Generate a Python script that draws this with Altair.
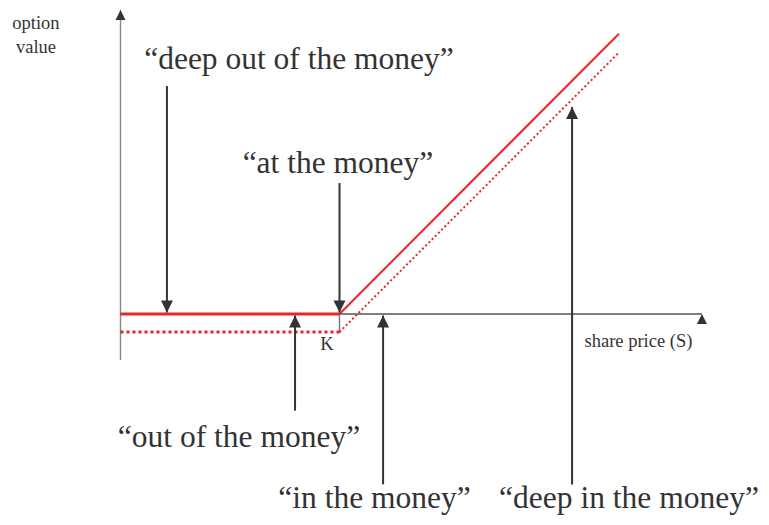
import altair as alt
import pandas as pd

# ---- data (in chart units: strike K = 100) ----
K = 100
share_price = [0, 100, 227.6]
option_value = [0, 0, 128.0]          # solid red payoff
lower_value = [-8.2, -8.2, 119.4]      # dotted red line

arrow_labels = ["\u201cdeep out of the money\u201d", "\u201cat the money\u201d",
                "\u201cout of the money\u201d", "\u201cin the money\u201d",
                "\u201cdeep in the money\u201d"]
arrow_x = [21.2, 100, 79.7, 119.9, 206.2]
arrow_from = [104.1, 59.8, -44.1, -77.8, -77.8]
arrow_tip = [0.7, 0.7, -0.7, -0.7, 94.5]
label_x = [81.5, 99.3, 54.1, 116.0, 232.2]
label_y = [111.9, 64.4, -60.7, -88.6, -88.6]

axis_texts = ["option", "value", "share price (S)", "K"]
axis_text_x = [-38.6, -38.6, 236.5, 94.3]
axis_text_y = [130.1, 119.2, -15.1, -16.4]

x_end = 265.5
y_end = 138.8
y_bottom = -21.0

# ---- scales ----
xs = alt.Scale(domain=[-51.37, 292.47], nice=False, zero=False)
ys = alt.Scale(domain=[-92.69, 139.73], nice=False, zero=False)

RED = "#e8262b"
DARK = "#333333"
FONT = "Liberation Serif"

# segments of red lines
seg_rows = []
for name, vals in [("solid", option_value), ("dotted", lower_value)]:
    for i in range(len(share_price) - 1):
        seg_rows.append({"series": name,
                         "kind": "flat" if i == 0 else "slope",
                         "x": share_price[i], "y": vals[i],
                         "x2": share_price[i + 1], "y2": vals[i + 1]})
segs = pd.DataFrame(seg_rows)

def seg_layer(series, kind, width, dash=None):
    kw = dict(color=RED, strokeWidth=width, strokeCap="butt")
    if dash:
        kw["strokeDash"] = dash
    return alt.Chart(segs).transform_filter(
        (alt.datum.series == series) & (alt.datum.kind == kind)
    ).mark_rule(**kw).encode(
        x=alt.X("x:Q", scale=xs, axis=None),
        y=alt.Y("y:Q", scale=ys, axis=None),
        x2="x2:Q", y2="y2:Q")

# axes
axes_df = pd.DataFrame({
    "x": [0, 0, K], "x2": [0, x_end, K],
    "y": [y_bottom, 0, 0], "y2": [y_end, 0, -8.7],
    "c": ["#888888", "#555555", "#777777"],
})
axes = alt.Chart(axes_df).mark_rule(strokeWidth=1.4).encode(
    x=alt.X("x:Q", scale=xs, axis=None), x2="x2:Q",
    y=alt.Y("y:Q", scale=ys, axis=None), y2="y2:Q",
    color=alt.Color("c:N", scale=None))

UP = "M0,0L-0.5,1L0.5,1Z"
DOWN = "M0,0L-0.5,-1L0.5,-1Z"
RIGHT = "M0,0L-1,-0.4L-1,0.4Z"

axis_heads = pd.DataFrame({"x": [0, x_end], "y": [y_end, 0], "d": ["up", "right"]})
axis_head_layer = alt.Chart(axis_heads).mark_point(filled=True, opacity=1, size=400,
                                                   color="#333333", strokeWidth=0).encode(
    x=alt.X("x:Q", scale=xs, axis=None),
    y=alt.Y("y:Q", scale=ys, axis=None),
    shape=alt.Shape("d:N", scale=alt.Scale(domain=["up", "right"], range=[UP, RIGHT]),
                    legend=None))

arrows = pd.DataFrame({"label": arrow_labels, "x": arrow_x, "y": arrow_from,
                       "tip": arrow_tip, "lx": label_x, "ly": label_y})
arrows["d"] = ["down" if t < f else "up" for t, f in zip(arrow_tip, arrow_from)]

arrow_lines = alt.Chart(arrows).mark_rule(color=DARK, strokeWidth=2).encode(
    x=alt.X("x:Q", scale=xs, axis=None),
    y=alt.Y("y:Q", scale=ys, axis=None), y2="tip:Q")

arrow_heads = alt.Chart(arrows).mark_point(filled=True, opacity=1, size=576,
                                           color=DARK, strokeWidth=0).encode(
    x=alt.X("x:Q", scale=xs, axis=None),
    y=alt.Y("tip:Q", scale=ys, axis=None),
    shape=alt.Shape("d:N", scale=alt.Scale(domain=["up", "down"], range=[UP, DOWN]),
                    legend=None))

arrow_text = alt.Chart(arrows).mark_text(font=FONT, fontSize=31.5, color=DARK,
                                         align="center", baseline="alphabetic").encode(
    x=alt.X("lx:Q", scale=xs, axis=None),
    y=alt.Y("ly:Q", scale=ys, axis=None),
    text="label:N")

ax_txt = pd.DataFrame({"t": axis_texts, "x": axis_text_x, "y": axis_text_y})
axis_text = alt.Chart(ax_txt).mark_text(font=FONT, fontSize=18.5, color=DARK,
                                        align="center", baseline="alphabetic").encode(
    x=alt.X("x:Q", scale=xs, axis=None),
    y=alt.Y("y:Q", scale=ys, axis=None),
    text="t:N")

chart = alt.layer(
    axes,
    seg_layer("dotted", "flat", 3, [3, 3]),
    seg_layer("dotted", "slope", 2, [2, 2.5]),
    seg_layer("solid", "flat", 3),
    seg_layer("solid", "slope", 2),
    arrow_lines,
    arrow_heads,
    axis_head_layer,
    arrow_text,
    axis_text,
).properties(width=753, height=509, padding=0, background="white",
             autosize=alt.AutoSizeParams(type="none")
).configure_view(stroke=None)

chart.save("out.html", embed_options={"renderer": "svg", "actions": False})
